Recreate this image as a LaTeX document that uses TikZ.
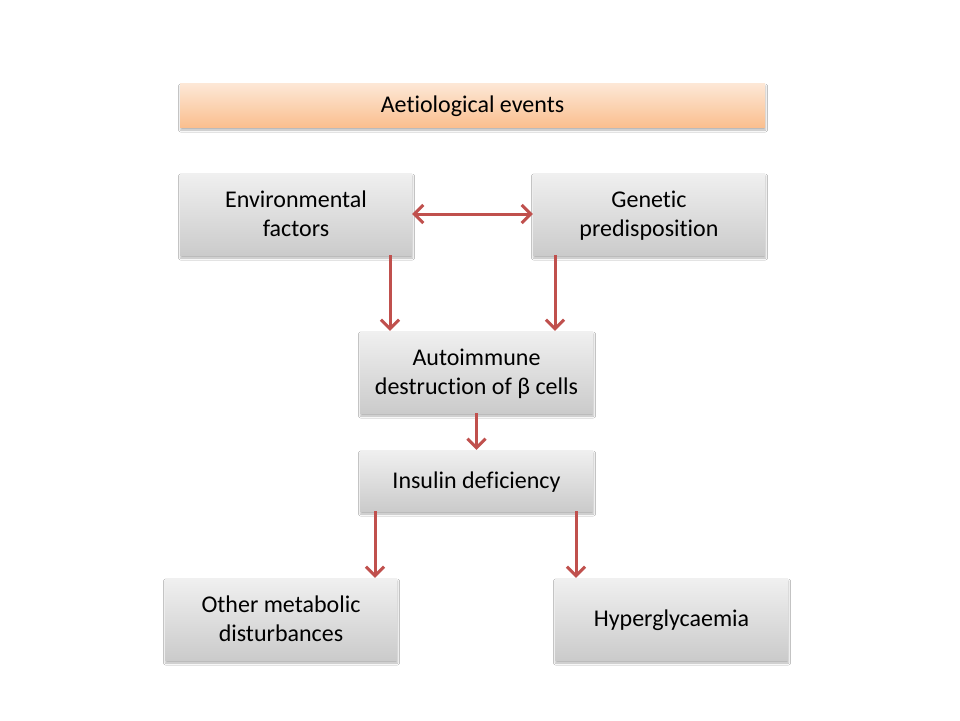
\documentclass[tikz,border=0pt]{standalone}
\usepackage{fontspec}
\setmainfont[Ligatures=NoCommon]{Carlito}
\usetikzlibrary{arrows.meta,shadows.blur}
\definecolor{arrowred}{HTML}{C0504D}
\definecolor{boxtop}{HTML}{F0F0F0}
\definecolor{boxbot}{HTML}{CBCBCB}
\definecolor{orangetop}{HTML}{FDE8D7}
\definecolor{orangebot}{HTML}{FABF8F}
\newcommand\mystrut{\rule[-6.7pt]{0pt}{29pt}}
\tikzset{
  gbox/.style={rectangle, inner sep=2pt, align=center, text=black,
    top color=boxtop, bottom color=boxbot, draw=none,
    blur shadow={shadow xshift=0.5pt, shadow yshift=-3pt, shadow blur radius=2pt, shadow opacity=30},
    font=\fontsize{24}{29}\selectfont},
  obox/.style={gbox, top color=orangetop, bottom color=orangebot},
  arr/.style={draw=arrowred, line width=3pt, -{Straight Barb[length=9pt,width=18pt,line width=3pt]}},
  darr/.style={draw=arrowred, line width=3pt, {Straight Barb[length=9pt,width=18pt,line width=3pt]}-{Straight Barb[length=9pt,width=18pt,line width=3pt]}}
}
\begin{document}
\begin{tikzpicture}[x=1pt,y=-1pt]
\useasboundingbox[fill=white] (0,0) rectangle (960,720);
\node[obox, minimum width=585pt, minimum height=44pt] (top) at (472.5,105) {Aetiological events\mystrut};
\node[gbox, minimum width=232pt, minimum height=82pt] (env) at (296,214) {Environmental\mystrut\\factors\mystrut};
\node[gbox, minimum width=232pt, minimum height=82pt] (gen) at (649,214) {Genetic\mystrut\\predisposition\mystrut};
\node[gbox, minimum width=233pt, minimum height=82pt] (auto) at (476.5,372) {Autoimmune\mystrut\\destruction of β cells\mystrut};
\node[gbox, minimum width=233pt, minimum height=61pt] (ins) at (476.5,480.5) {Insulin deficiency\mystrut};
\node[gbox, minimum width=232pt, minimum height=82pt] (oth) at (281,619) {Other metabolic\mystrut\\disturbances\mystrut};
\node[gbox, minimum width=233pt, minimum height=82pt] (hyp) at (671.5,619) {Hyperglycaemia\mystrut};
\draw[darr] (env.east) -- (gen.west);
\draw[arr] ([xshift=94pt]env.south) -- ([xshift=-86.5pt]auto.north);
\draw[arr] ([xshift=-94pt]gen.south) -- ([xshift=78.5pt]auto.north);
\draw[arr] (auto.south) -- (ins.north);
\draw[arr] ([xshift=-101.5pt]ins.south) -- ([xshift=94pt]oth.north);
\draw[arr] ([xshift=99.5pt]ins.south) -- ([xshift=-95.5pt]hyp.north);
\end{tikzpicture}
\end{document}
